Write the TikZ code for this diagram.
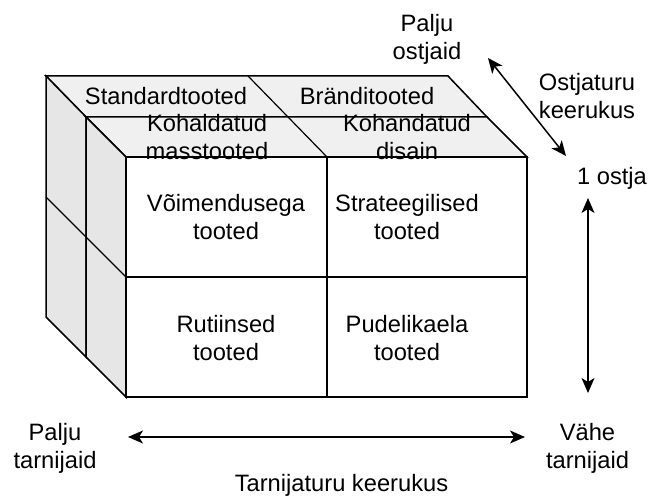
\documentclass[tikz,border=0pt]{standalone}
\usepackage{fontspec}
\setmainfont{Liberation Sans}
\usetikzlibrary{arrows.meta}
\definecolor{topc}{HTML}{F0F0F0}
\definecolor{sidec}{HTML}{E6E6E6}
\begin{document}
\begin{tikzpicture}[x=1pt,y=-1pt,
  face/.style={draw=black,line width=1.5pt,line join=miter},
  divl/.style={draw=black,line width=1.2pt},
  lbl/.style={font=\fontsize{23.7}{28}\selectfont, align=center, anchor=base, inner sep=0pt},
  tip/.style={Stealth[length=15pt,width=13pt,inset=4pt]},
  arr/.style={line width=1.5pt, {Stealth[length=15pt,width=13pt,inset=4pt]}-{Stealth[length=15pt,width=13pt,inset=4pt]}}]
\useasboundingbox (0,0) rectangle (649,500);
% back layer
\path[face,fill=topc] (46,76) -- (448,76) -- (487,117) -- (86,117) -- cycle;
\path[face,fill=sidec] (46,76) -- (86,117) -- (86,357) -- (46,317) -- cycle;
\draw[divl] (248,76) -- (288,117);
\draw[divl] (46,197) -- (86,237);
% middle layer
\path[face,fill=topc] (86,117) -- (487,117) -- (527,157) -- (126,157) -- cycle;
\path[face,fill=sidec] (86,117) -- (126,157) -- (126,397) -- (86,357) -- cycle;
\draw[divl] (288,117) -- (327,157);
\draw[divl] (86,237) -- (126,277);
% front face
\path[face,fill=white] (126,157) rectangle (527,397);
\draw[face] (327,157) -- (327,397);
\draw[face] (126,277) -- (527,277);
% labels (anchor = baseline of the last line)
\node[lbl] (std) at (166,105) {Standardtooted};
\node[lbl] (bra) at (367,105) {Bränditooted};
\node[lbl] (koh) at (207,160) {Kohaldatud\\masstooted};
\node[lbl] (kod) at (407,160) {Kohandatud\\disain};
\node[lbl] (voi) at (226,240) {Võimendusega\\tooted};
\node[lbl] (str) at (407,240) {Strateegilised\\tooted};
\node[lbl] (rut) at (226,360) {Rutiinsed\\tooted};
\node[lbl] (pud) at (407,360) {Pudelikaela\\tooted};
\node[lbl] (po) at (427,60) {Palju\\ostjaid};
\node[lbl] (ok) at (587,118.5) {Ostjaturu\\keerukus};
\node[lbl] (yo) at (612,185) {1 ostja};
\node[lbl] (pt) at (55,468.5) {Palju\\tarnijaid};
\node[lbl] (vt) at (587.5,468.5) {Vähe\\tarnijaid};
\node[lbl] (tk) at (341.5,491.5) {Tarnijaturu keerukus};
% arrows
\coordinate (da) at (488,58);
\coordinate (db) at (566,156);
\coordinate (va) at (588,198);
\coordinate (vb) at (588,393);
\coordinate (ha) at (128,437);
\coordinate (hb) at (525,437);
\draw[arr] (da) -- (db);
\draw[arr] (va) -- (vb);
\draw[arr] (ha) -- (hb);
\end{tikzpicture}
\end{document}
